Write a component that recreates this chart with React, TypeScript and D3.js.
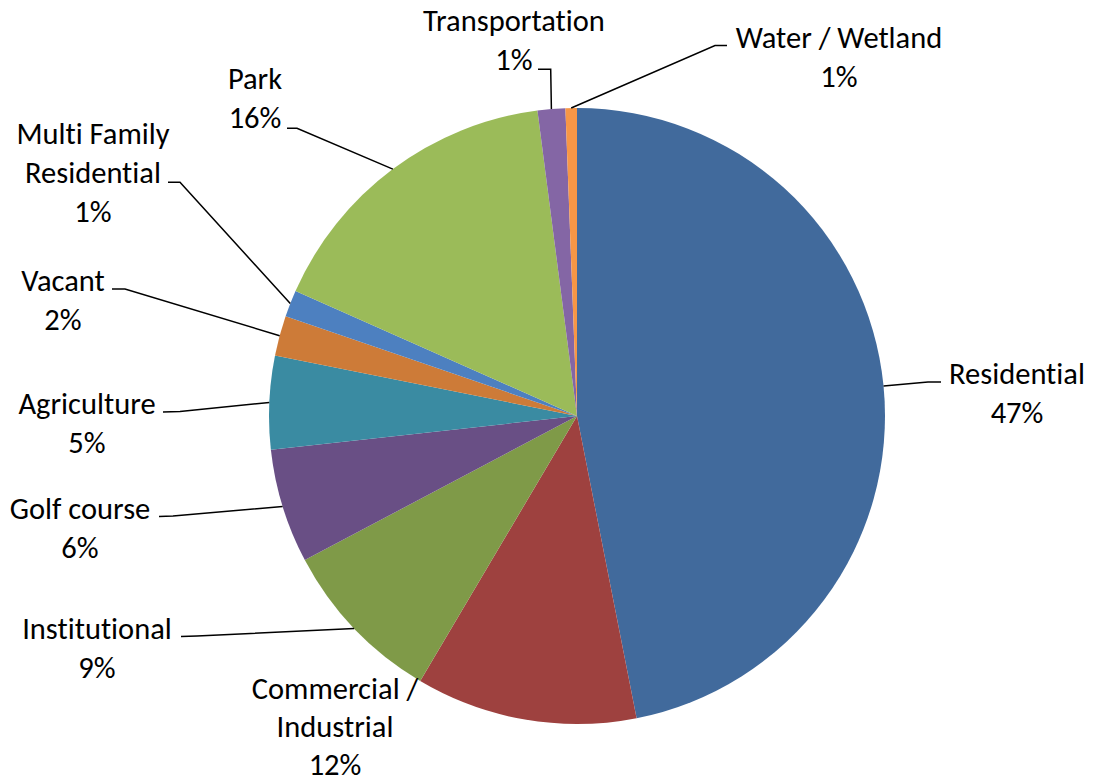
import React from "react";
import * as d3 from "d3";

const categories = [
  "Residential",
  "Commercial / Industrial",
  "Institutional",
  "Golf course",
  "Agriculture",
  "Vacant",
  "Multi Family Residential",
  "Park",
  "Transportation",
  "Water / Wetland",
];
const values = [46.9, 11.6, 8.75, 6.0, 4.9, 2.1, 1.4, 16.3, 1.45, 0.6];
const colors = [
  "#416A9C",
  "#9E413F",
  "#7F9A48",
  "#694F85",
  "#3A8BA2",
  "#CD7B38",
  "#4D80C0",
  "#9BBB59",
  "#8466A5",
  "#F79646",
];
// label text lines (category name split as in the chart)
const labelLines = [
  ["Residential"],
  ["Commercial /", "Industrial"],
  ["Institutional"],
  ["Golf course"],
  ["Agriculture"],
  ["Vacant"],
  ["Multi Family", "Residential"],
  ["Park"],
  ["Transportation"],
  ["Water / Wetland"],
];

// layout of labels: text center x, first-line center y, leader end (at label) and elbow
const labelLayout = [
  { cx: 1017, cy: 373, end: [941, 382], elbow: [928, 382] },
  { cx: 335, cy: 688, end: null, elbow: null, lh: 38 },
  { cx: 97, cy: 628, end: [181, 636.5], elbow: [197, 636] },
  { cx: 80, cy: 508, end: [159, 516.5], elbow: [173, 516] },
  { cx: 87, cy: 403, end: [163, 412], elbow: [180, 411.5] },
  { cx: 63, cy: 280, end: [112, 289], elbow: [125, 289] },
  { cx: 93, cy: 133, end: [168, 182.3], elbow: [180, 182.3] },
  { cx: 255, cy: 78, end: [287, 128.3], elbow: [297, 128.3] },
  { cx: 514, cy: 20, end: [538, 69.3], elbow: [550.7, 69.3] },
  { cx: 839, cy: 37, end: [727, 45.5], elbow: [715, 45.5] },
];

const W = 1093;
const H = 784;
const CX = 577;
const CY = 416;
const R = 308;
const LINE_H = 39;

export default function App() {
  const total = d3.sum(values);
  const pie = d3
    .pie<number>()
    .sort(null)
    .value((d) => d)
    .startAngle(0)
    .endAngle(2 * Math.PI);
  const arcs = pie(values);
  const arcGen = d3.arc<d3.PieArcDatum<number>>().innerRadius(0).outerRadius(R);

  return (
    <svg
      width={W}
      height={H}
      style={{
        position: "absolute",
        left: 0,
        top: 0,
        background: "#fff",
        fontVariantLigatures: "none",
      }}
      fontFamily="Carlito, Calibri, Lato, sans-serif"
    >
      <g transform={`translate(${CX},${CY})`}>
        {arcs.map((a, i) => (
          <path key={i} d={arcGen(a) || ""} fill={colors[i]} />
        ))}
      </g>
      {arcs.map((a, i) => {
        const L = labelLayout[i] as any;
        const lh = L.lh ?? LINE_H;
        const mid = (a.startAngle + a.endAngle) / 2;
        const ax = CX + R * Math.sin(mid);
        const ay = CY - R * Math.cos(mid);
        const pct = Math.round((values[i] / total) * 100) + "%";
        const lines = [...labelLines[i], pct];
        return (
          <g key={i}>
            {L.end && L.elbow && (
              <polyline
                points={`${L.end[0]},${L.end[1]} ${L.elbow[0]},${L.elbow[1]} ${ax},${ay}`}
                fill="none"
                stroke="#000"
                strokeWidth={1.5}
              />
            )}
            {lines.map((t, j) => (
              <text
                key={j}
                x={L.cx}
                y={L.cy + j * lh}
                textAnchor="middle"
                dominantBaseline="central"
                fontSize={30.5}
                fill="#000"
              >
                {t}
              </text>
            ))}
          </g>
        );
      })}
    </svg>
  );
}
